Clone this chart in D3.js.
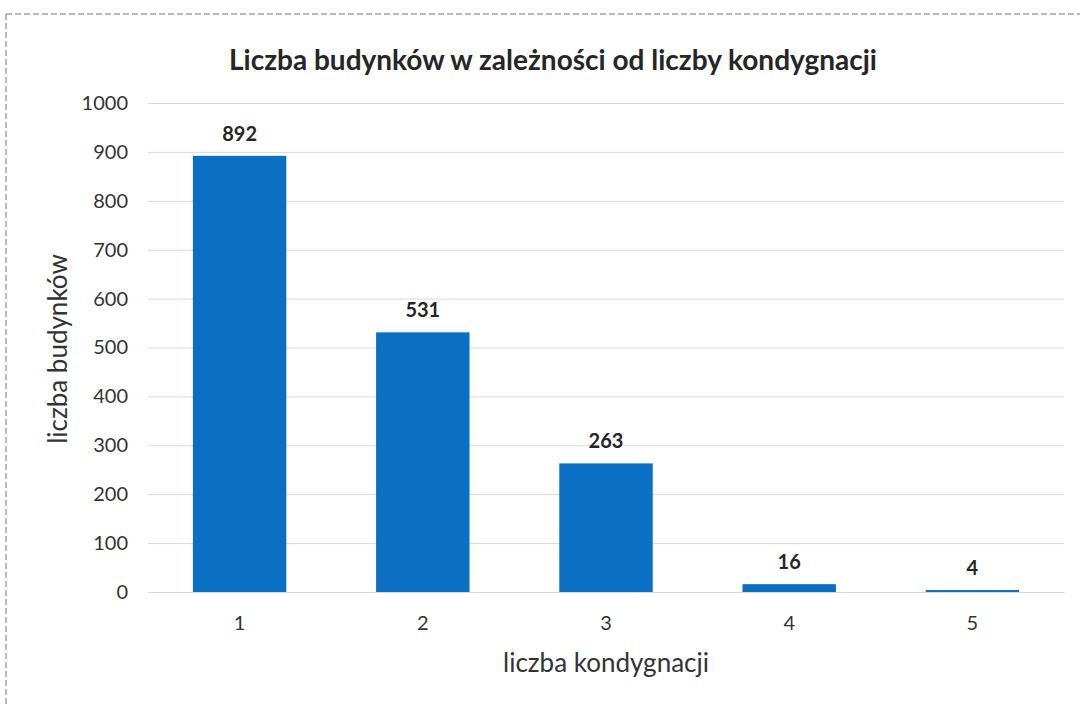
<!DOCTYPE html>
<html><head><meta charset="utf-8">
<script src="https://cdn.jsdelivr.net/npm/d3@7"></script>
<style>body{margin:0;background:#fff}svg{display:block}</style>
</head><body>
<svg id="c" width="1080" height="704"></svg>
<script>
const categories = ["1","2","3","4","5"];
const values = [892, 531, 263, 16, 4];
const yTicks = [0,100,200,300,400,500,600,700,800,900,1000];
const title = "Liczba budynków w zależności od liczby kondygnacji";
const xTitle = "liczba kondygnacji";
const yTitle = "liczba budynków";

const svg = d3.select("#c");
const font = "Lato, 'Open Sans', sans-serif";
const m = {l:148, r:1064, t:103, b:592};

// scan border
svg.append("line").attr("x1",6).attr("x2",1080).attr("y1",14).attr("y2",14)
  .attr("stroke","#777").attr("stroke-width",1).attr("stroke-dasharray","6,3");
svg.append("line").attr("x1",6).attr("x2",6).attr("y1",14).attr("y2",704)
  .attr("stroke","#777").attr("stroke-width",1).attr("stroke-dasharray","6,3");

const x = d3.scaleBand().domain(categories).range([m.l, m.r]).paddingInner(0.49).paddingOuter(0.245);
const y = d3.scaleLinear().domain([0,1000]).range([m.b, m.t]);

const yAxis = svg.append("g").attr("transform",`translate(${m.l},0)`)
  .call(d3.axisLeft(y).tickValues(yTicks).tickFormat(d3.format("d")).tickSize(-(m.r-m.l)).tickPadding(20));
yAxis.select(".domain").remove();
yAxis.selectAll(".tick line").attr("stroke","#d9d9d9").attr("stroke-width",1);
yAxis.selectAll(".tick text").attr("fill","#333").attr("font-size",20).attr("font-family",font);

const xAxis = svg.append("g").attr("transform",`translate(0,${m.b})`)
  .call(d3.axisBottom(x).tickSize(0).tickPadding(24));
xAxis.select(".domain").attr("stroke","#d9d9d9");
xAxis.selectAll(".tick text").attr("fill","#333").attr("font-size",20).attr("font-family",font);

svg.append("g").selectAll("rect").data(values).join("rect")
  .attr("x",(d,i)=>x(categories[i])).attr("width",x.bandwidth())
  .attr("y",d=>y(d)).attr("height",d=>y(0)-y(d))
  .attr("fill","#0b6fc4");

svg.append("g").selectAll("text").data(values).join("text")
  .attr("x",(d,i)=>x(categories[i])+x.bandwidth()/2)
  .attr("y",d=>y(d)-15)
  .attr("text-anchor","middle").attr("font-family",font).attr("font-weight","bold")
  .attr("font-size",20).attr("fill","#262626").text(d=>d);

svg.append("text").attr("x",553).attr("y",70).attr("text-anchor","middle")
  .attr("font-family",font).attr("font-weight","bold").attr("font-size",28)
  .attr("fill","#262626").text(title);

svg.append("text").attr("x",606).attr("y",672).attr("text-anchor","middle")
  .attr("font-family",font).attr("font-size",26).attr("fill","#333").text(xTitle);

svg.append("text").attr("transform","translate(67,349) rotate(-90)").attr("text-anchor","middle")
  .attr("font-family",font).attr("font-size",26).attr("fill","#333").text(yTitle);
</script>
</body></html>
